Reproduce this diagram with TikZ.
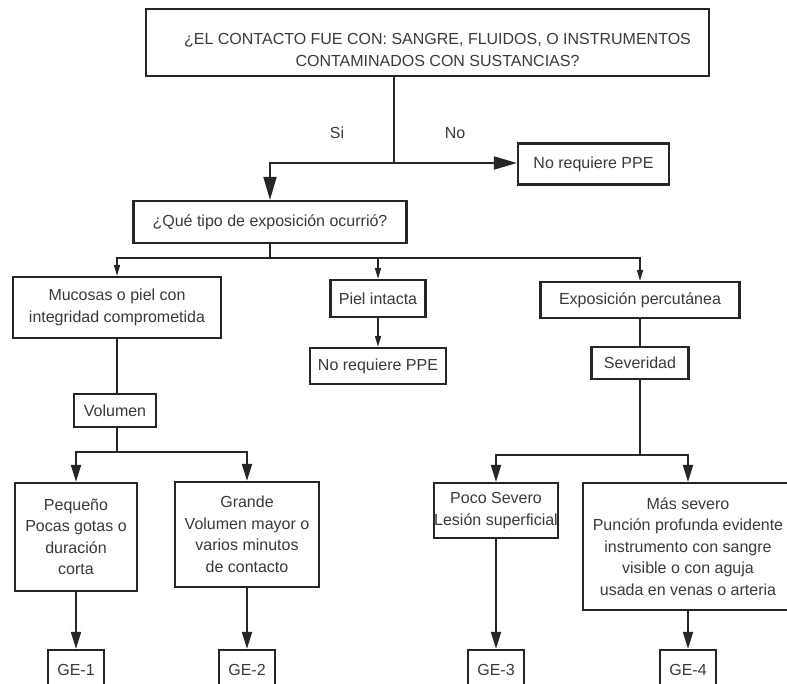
\documentclass[tikz,border=0pt]{standalone}
\usepackage{fontspec}
\setmainfont{Liberation Sans}
\usepackage{xcolor}
\usepackage{tikz}
\usetikzlibrary{arrows.meta,calc}
\definecolor{linea}{HTML}{262626}
\definecolor{texto}{HTML}{3A3A3A}

\begin{document}
\begin{tikzpicture}[
  x=1pt, y=-1pt,
  font=\fontsize{16}{21.5}\selectfont,
  caja/.style={draw=linea, line width=2.2pt, fill=white, text=texto,
               align=center, inner sep=0pt},
  rotulo/.style={text=texto, inner sep=0pt},
  conector/.style={draw=linea, line width=1.8pt},
  flechagrande/.style={conector, -{Triangle[length=23pt,width=13pt]}},
  flechachica/.style={conector, line width=1.5pt, -{Triangle[length=11pt,width=6pt]}},
  flechamedia/.style={conector, -{Triangle[length=17pt,width=10pt]}},
]
\useasboundingbox (0,0) rectangle (787,683);
\clip (0,0) rectangle (787,683);

% ── pregunta inicial ────────────────────────────────────────────────────────
% texto algo desplazado hacia abajo y a la derecha dentro de la caja
\node[caja, minimum width=563pt, minimum height=67pt] (pregunta) at (427.5,42.5)
  {\rule{0pt}{26pt}\hspace*{20pt}¿EL CONTACTO FUE CON: SANGRE, FLUIDOS, O INSTRUMENTOS\\
   \hspace*{20pt}CONTAMINADOS CON SUSTANCIAS?};
\coordinate (sino) at (394,163);
\node[rotulo] (si) at (337,133) {Si};
\node[rotulo] (no) at (455,133) {No};
\node[caja, minimum width=151pt, minimum height=41pt] (noppeA) at (593.5,164)
  {No requiere PPE};
\node[caja, minimum width=273pt, minimum height=42pt] (tipo) at (270,222)
  {¿Qué tipo de exposición ocurrió?};

\draw[conector] (pregunta.south -| sino) -- (sino);
\draw[flechagrande] (sino) -| (tipo.north);
\draw[flechagrande] (sino) -- (noppeA.west |- sino);

% ── tipos de exposición ─────────────────────────────────────────────────────
\coordinate (rama) at (270,258);
\node[caja, minimum width=208pt, minimum height=61pt] (mucosas) at (117,307.5)
  {Mucosas o piel con\\integridad comprometida};
\node[caja, minimum width=95pt, minimum height=37pt] (piel) at (378,298.5)
  {Piel intacta};
\node[caja, minimum width=136pt, minimum height=36pt] (noppeB) at (378,366)
  {No requiere PPE};
\node[caja, minimum width=199pt, minimum height=36pt] (percut) at (640,300)
  {Exposición percutánea};
\node[caja, minimum width=97pt, minimum height=32pt] (sever) at (640,363)
  {Severidad};
\node[caja, minimum width=82pt, minimum height=33pt] (volumen) at (115,410.5)
  {Volumen};

\draw[conector] (tipo.south) -- (rama);
\draw[flechachica] (rama) -| (mucosas.north);
\draw[flechachica] (rama) -| (piel.north);
\draw[flechachica] (rama) -| (percut.north);
\draw[flechachica] (piel.south) -- (noppeB.north);
\draw[conector] (mucosas.south) -- (mucosas.south |- volumen.north);
\draw[conector] (percut.south) -- (sever.north);

% ── volumen ─────────────────────────────────────────────────────────────────
\coordinate (ramaV) at (117,452);
\node[caja, minimum width=122pt, minimum height=108pt] (pequeno) at (76,537)
  {Pequeño\\Pocas gotas o\\duración\\corta};
\node[caja, minimum width=144pt, minimum height=105pt] (grande) at (247,534.5)
  {Grande\\Volumen mayor o\\varios minutos\\de contacto};
\node[caja, minimum width=56pt, minimum height=40pt] (geA) at (76,670) {GE-1};
\node[caja, minimum width=56pt, minimum height=40pt] (geB) at (247,670) {GE-2};

\draw[conector] (volumen.south -| ramaV) -- (ramaV);
\draw[flechamedia] (ramaV) -| (pequeno.north);
\draw[flechamedia] (ramaV) -| (grande.north);
\draw[flechamedia] (pequeno.south) -- (geA.north);
\draw[flechamedia] (grande.south) -- (geB.north);

% ── severidad ───────────────────────────────────────────────────────────────
\coordinate (ramaS) at (640,455);
\node[caja, minimum width=116pt, minimum height=55pt] (poco) at (496,510.5)
  {Poco Severo\\Lesión superficial};
\node[caja, minimum width=210pt, minimum height=127pt] (mas) at (688,546.5)
  {Más severo\\Punción profunda evidente\\instrumento con sangre\\
   visible o con aguja\\usada en venas o arteria};
\node[caja, minimum width=56pt, minimum height=40pt] (geC) at (496,670) {GE-3};
\node[caja, minimum width=56pt, minimum height=40pt] (geD) at (688,670) {GE-4};

\draw[conector] (sever.south) -- (ramaS);
\draw[flechamedia] (ramaS) -| (poco.north);
\draw[flechamedia] (ramaS) -| (mas.north);
\draw[flechamedia] (poco.south) -- (geC.north);
\draw[flechamedia] (mas.south) -- (geD.north);
\end{tikzpicture}
\end{document}
